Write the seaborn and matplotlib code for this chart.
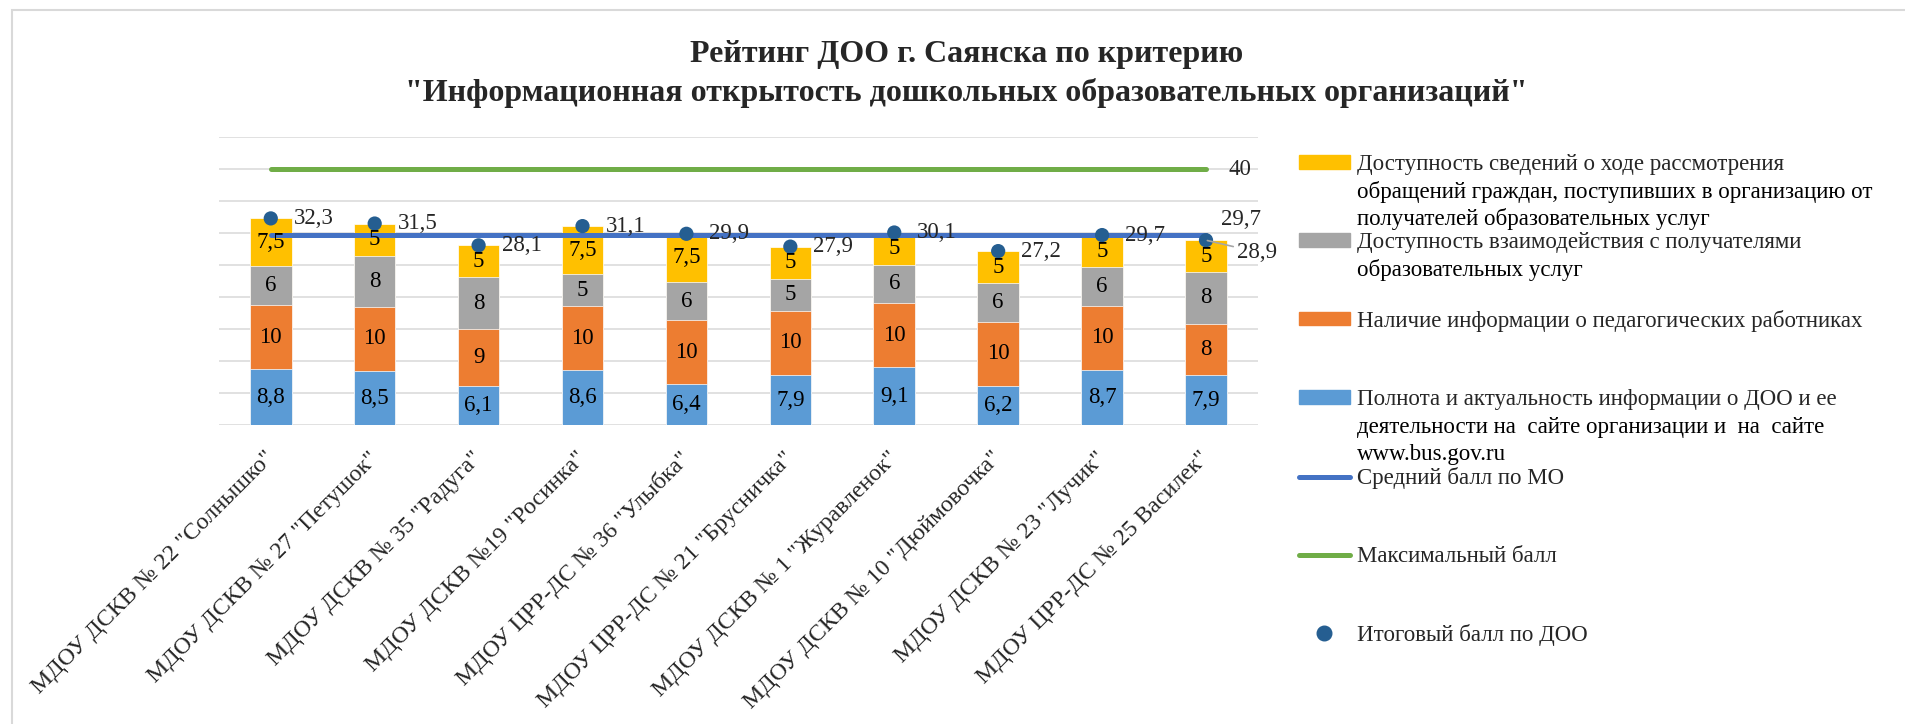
import numpy as np
import pandas as pd
import seaborn as sns
import matplotlib.pyplot as plt
import matplotlib.transforms as mtransforms
from matplotlib.patches import Patch, Rectangle
from matplotlib.lines import Line2D

# Данные рейтинга ДОО
doo = ['МДОУ ДСКВ № 22 "Солнышко"', 'МДОУ ДСКВ № 27 "Петушок"', 'МДОУ ДСКВ № 35 "Радуга"',
       'МДОУ ДСКВ №19 "Росинка"', 'МДОУ ЦРР-ДС № 36 "Улыбка"', 'МДОУ ЦРР-ДС № 21 "Брусничка"',
       'МДОУ ДСКВ № 1 "Журавленок"', 'МДОУ ДСКВ № 10 "Дюймовочка"', 'МДОУ ДСКВ № 23 "Лучик"',
       'МДОУ ЦРР-ДС № 25 Василек"']
polnota = [8.8, 8.5, 6.1, 8.6, 6.4, 7.9, 9.1, 6.2, 8.7, 7.9]
pedagogi = [10, 10, 9, 10, 10, 10, 10, 10, 10, 8]
vzaimod = [6, 8, 8, 5, 6, 5, 6, 6, 6, 8]
obrash = [7.5, 5, 5, 7.5, 7.5, 5, 5, 5, 5, 5]
itog = [32.3, 31.5, 28.1, 31.1, 29.9, 27.9, 30.1, 27.2, 29.7, 28.9]
sredniy = [29.7, 29.7, 29.7, 29.7, 29.7, 29.7, 29.7, 29.7, 29.7, 29.7]
maks = [40, 40, 40, 40, 40, 40, 40, 40, 40, 40]

names = ['Полнота и актуальность информации о ДОО и ее\nдеятельности на  сайте организации и  на  сайте\nwww.bus.gov.ru',
         'Наличие информации о педагогических работниках',
         'Доступность взаимодействия с получателями\nобразовательных услуг',
         'Доступность сведений о ходе рассмотрения\nобращений граждан, поступивших в организацию от\nполучателей образовательных услуг']
colors = ['#5B9BD5', '#ED7D31', '#A5A5A5', '#FFC000']

sns.set_style('white')
plt.rcParams['font.family'] = ['Liberation Serif', 'DejaVu Serif']
fs = 16.5

df = pd.DataFrame({'doo': doo, 'polnota': polnota, 'pedagogi': pedagogi,
                   'vzaimod': vzaimod, 'obrash': obrash})
parts = ['polnota', 'pedagogi', 'vzaimod', 'obrash']

W, H = 1906, 724
fig = plt.figure(figsize=(W / 100, H / 100), dpi=100)
ax = fig.add_axes([0.1148, 0.4123, 0.5452, 0.3985])

# stacked bars: draw cumulative sums from top to bottom
for k in range(len(parts) - 1, -1, -1):
    cum = df[parts[:k + 1]].sum(axis=1)
    sns.barplot(x=df['doo'], y=cum, color=colors[k], width=0.4, ax=ax, saturation=1,
                edgecolor='white', linewidth=0.5, zorder=2)

# labels inside segments
pos = np.arange(len(doo))
bottom = np.zeros(len(doo))
for k, p in enumerate(parts):
    vals = df[p].values
    for i in range(len(doo)):
        ax.text(pos[i], bottom[i] + vals[i] / 2, f'{vals[i]:g}'.replace('.', ','),
                ha='center', va='center', fontsize=fs, color='black', zorder=6)
    bottom = bottom + vals

sns.lineplot(x=pos, y=maks, color='#70AD47', linewidth=3.6, ax=ax, zorder=4,
             solid_capstyle='round')
sns.lineplot(x=pos, y=sredniy, color='#4472C4', linewidth=3.6, ax=ax, zorder=4,
             solid_capstyle='round')
sns.scatterplot(x=pos, y=itog, color='#255E91', s=105, edgecolor='none', ax=ax, zorder=5)

fmt = lambda v: f'{v:g}'.replace('.', ',')
for i, v in enumerate(itog):
    if i == len(itog) - 1:
        ax.annotate(fmt(v), (pos[i], v), xytext=(22, -8.5), textcoords='offset points',
                    ha='left', va='center', fontsize=fs, zorder=6,
                    arrowprops=dict(arrowstyle='-', color='#A6A6A6', lw=1.2,
                                    shrinkA=0, shrinkB=1))
    else:
        ax.annotate(fmt(v), (pos[i], v), xytext=(16.5, 0), textcoords='offset points',
                    ha='left', va='center', fontsize=fs, zorder=6)
ax.annotate(fmt(sredniy[-1]), (pos[-1], sredniy[-1]), xytext=(10.5, 11.5),
            textcoords='offset points', ha='left', va='center', fontsize=fs, zorder=6)
ax.annotate(fmt(maks[-1]), (pos[-1], maks[-1]), xytext=(16.5, 0),
            textcoords='offset points', ha='left', va='center', fontsize=fs, zorder=6)

ax.set_ylim(0, 45)
ax.set_xlim(-0.5, len(doo) - 0.5)
ax.set_yticks(np.arange(0, 46, 5))
ax.set_yticklabels([])
ax.yaxis.grid(True, color='#D9D9D9', linewidth=1.1)
ax.set_axisbelow(True)
ax.set_xlabel('')
ax.set_ylabel('')
sns.despine(ax=ax, left=True, bottom=True)
ax.tick_params(axis='both', length=0)
ax.tick_params(axis='x', pad=16)
shift = mtransforms.ScaledTranslation(-5 / 72, 0, fig.dpi_scale_trans)
for lbl in ax.get_xticklabels():
    lbl.set_rotation(45)
    lbl.set_ha('right')
    lbl.set_va('top')
    lbl.set_rotation_mode('anchor')
    lbl.set_fontsize(17.2)
    lbl.set_transform(lbl.get_transform() + shift)

fig.text(0.507, 1 - 74 / H,
         'Рейтинг ДОО г. Саянска по критерию\n"Информационная открытость дошкольных образовательных организаций"',
         ha='center', va='center', fontsize=23, fontweight='bold', linespacing=1.4)

# legend: one entry per row, handle at first text line
handles = [Patch(color=colors[3]), Patch(color=colors[2]), Patch(color=colors[1]),
           Patch(color=colors[0]),
           Line2D([], [], color='#4472C4', lw=3.6, solid_capstyle='round'),
           Line2D([], [], color='#70AD47', lw=3.6, solid_capstyle='round'),
           Line2D([], [], color='#255E91', marker='o', markersize=10.5, lw=0)]
labels = [names[3], names[2], names[1], names[0],
          'Средний балл по МО', 'Максимальный балл', 'Итоговый балл по ДОО']
row_y = [164.3, 242.5, 320.7, 400, 478.3, 556.7, 635]
legs = []
for h, lab, y in zip(handles, labels, row_y):
    leg = fig.legend(handles=[h], labels=[lab.split('\n')[0]], loc='center left',
                     bbox_to_anchor=(1299 / W, 1 - y / H), frameon=False, borderpad=0,
                     borderaxespad=0, handlelength=2.22, handleheight=0.55,
                     handletextpad=0.3, fontsize=fs)
    legs.append(leg)

fig.canvas.draw()
renderer = fig.canvas.get_renderer()
for leg, lab in zip(legs, labels):
    extra = lab.split('\n')[1:]
    bb = leg.get_texts()[0].get_window_extent(renderer)
    yc = (bb.y0 + bb.y1) / 2
    for k, line in enumerate(extra, 1):
        fig.text(bb.x0 / W, (yc - k * 27.3) / H, line, ha='left', va='center',
                 fontsize=fs, color='black')

# chart border
fig.patches.append(Rectangle((12.5 / W, -0.1), 1.2, 1.1 - 10 / H, transform=fig.transFigure,
                             fill=False, edgecolor='#D9D9D9', linewidth=1.5))

fig.savefig('out.png', dpi=100)
